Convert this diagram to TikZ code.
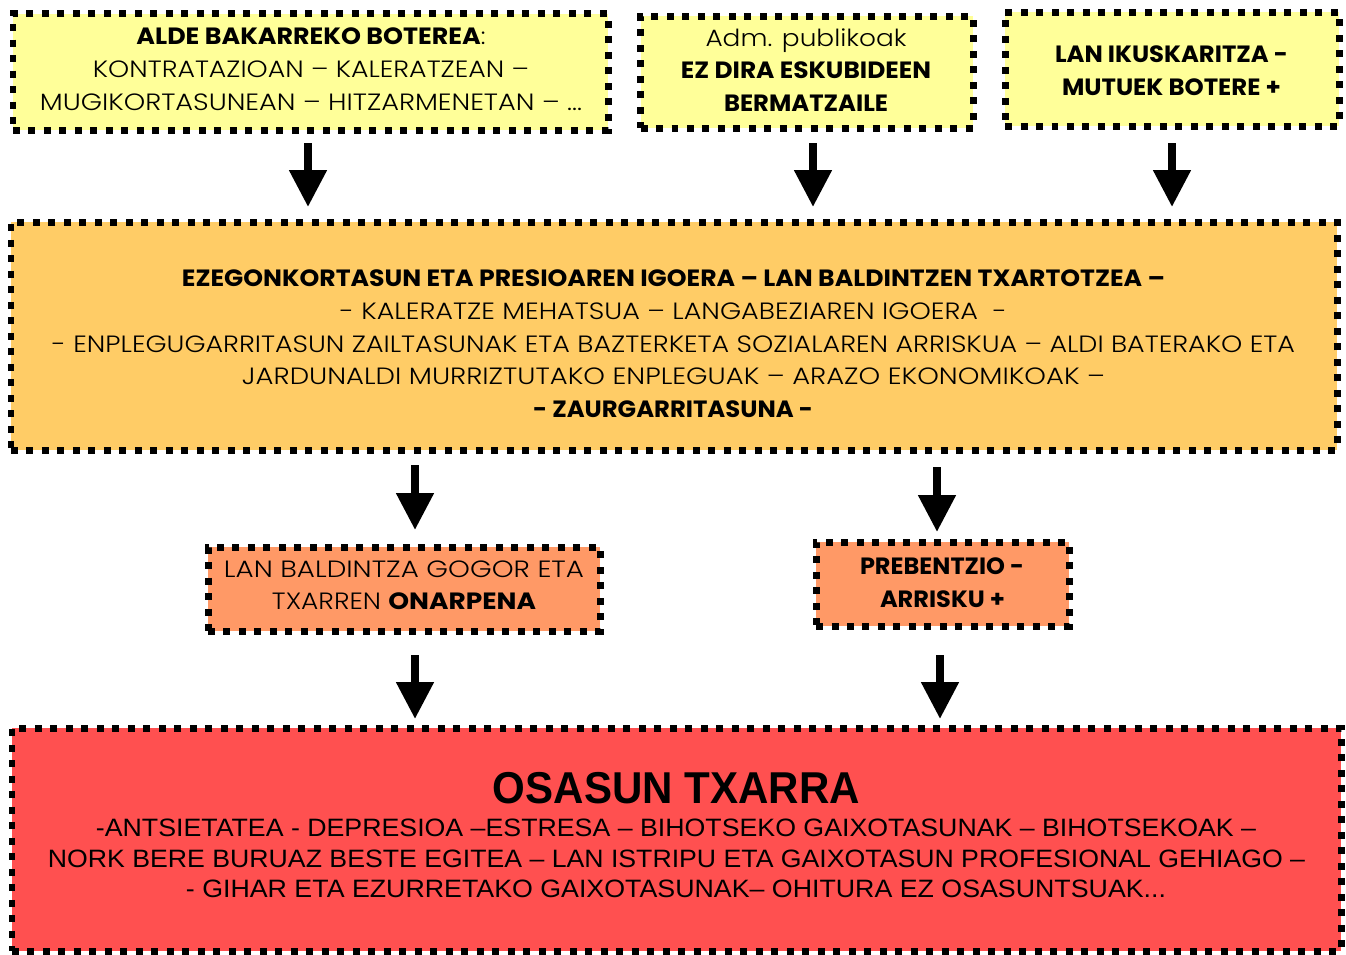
\documentclass[tikz,border=0pt]{standalone}
\usepackage{fontspec}
\usepackage{graphicx}
\setmainfont{Poppins}[UprightFont=* Light, BoldFont=* Bold]
\newfontfamily\arialf{Liberation Sans}
\usetikzlibrary{arrows.meta}
\newlength\pxu
\setlength\pxu{0.02cm}
\newcommand\fw[2]{\resizebox{#1\pxu}{\height}{#2}}
\definecolor{yelfill}{HTML}{FFFF99}
\definecolor{orfill}{HTML}{FFCC66}
\definecolor{salfill}{HTML}{FF9966}
\definecolor{redfill}{HTML}{FF5050}
\tikzset{
  dotbox/.style={draw=black, line width=0.14cm, dash pattern=on 0.14cm off 0.17cm, inner sep=0pt, outer sep=0pt},
  gtext/.style={anchor=base, inner sep=0pt, font=\fontsize{13.4}{16}\selectfont},
  atext/.style={anchor=base, inner sep=0pt, font=\arialf\fontsize{14.3}{17}\selectfont},
  ttext/.style={anchor=base, inner sep=0pt, font=\arialf\bfseries\fontsize{25.4}{30}\selectfont},
  bigarrow/.style={line width=0.16cm, -{Triangle[length=0.74cm, width=0.72cm]}}
}
\begin{document}
\begin{tikzpicture}[x=0.02cm, y=-0.02cm]
\useasboundingbox (0,0) rectangle (1346,954);
% boxes
\node[dotbox, fill=yelfill, minimum width=595\pxu, minimum height=116.5\pxu] (b1) at (310.5,71.75) {};
\node[dotbox, fill=yelfill, minimum width=332.5\pxu, minimum height=112\pxu] (b2) at (806.75,72) {};
\node[dotbox, fill=yelfill, minimum width=334\pxu, minimum height=114\pxu] (b3) at (1172,69) {};
\node[dotbox, fill=orfill, minimum width=1326\pxu, minimum height=228\pxu] (b4) at (674,336) {};
\node[dotbox, fill=salfill, minimum width=392\pxu, minimum height=84\pxu] (b5) at (404,589) {};
\node[dotbox, fill=salfill, minimum width=253\pxu, minimum height=84\pxu] (b6) at (942.5,584) {};
\node[dotbox, fill=redfill, minimum width=1329\pxu, minimum height=223\pxu] (b7) at (676.5,839.5) {};
% box 1 text
\node[gtext] (t1a) at (311,44) {\fw{349}{\textbf{ALDE BAKARREKO BOTEREA}:}};
\node[gtext] (t1b) at (311,77) {\fw{436}{KONTRATAZIOAN – KALERATZEAN –}};
\node[gtext] (t1c) at (311,110) {\fw{542}{MUGIKORTASUNEAN – HITZARMENETAN – ...}};
% box 2 text
\node[gtext] (t2a) at (806,46) {\fw{201}{Adm. publikoak}};
\node[gtext] (t2b) at (806,78) {\fw{250}{\textbf{EZ DIRA ESKUBIDEEN}}};
\node[gtext] (t2c) at (806,111) {\fw{164}{\textbf{BERMATZAILE}}};
% box 3 text
\node[gtext] (t3a) at (1171.5,62) {\fw{233}{\textbf{LAN IKUSKARITZA -}}};
\node[gtext] (t3b) at (1171.5,95) {\fw{219}{\textbf{MUTUEK BOTERE +}}};
% box 4 text
\node[gtext] (t4a) at (673.5,286) {\fw{983}{\textbf{EZEGONKORTASUN ETA PRESIOAREN IGOERA – LAN BALDINTZEN TXARTOTZEA –}}};
\node[gtext] (t4b) at (673.5,319) {\fw{667}{- KALERATZE MEHATSUA – LANGABEZIAREN IGOERA\ \ -}};
\node[gtext] (t4c) at (673.5,352) {\fw{1243}{- ENPLEGUGARRITASUN ZAILTASUNAK ETA BAZTERKETA SOZIALAREN ARRISKUA – ALDI BATERAKO ETA}};
\node[gtext] (t4d) at (673.5,384) {\fw{863}{JARDUNALDI MURRIZTUTAKO ENPLEGUAK – ARAZO EKONOMIKOAK –}};
\node[gtext] (t4e) at (673,417) {\fw{280}{\textbf{- ZAURGARRITASUNA -}}};
% box 5 text
\node[gtext] (t5a) at (404,577) {\fw{360}{LAN BALDINTZA GOGOR ETA}};
\node[gtext] (t5b) at (404,609) {\fw{264}{TXARREN \textbf{ONARPENA}}};
% box 6 text
\node[gtext] (t6a) at (942,574) {\fw{164}{\textbf{PREBENTZIO -}}};
\node[gtext] (t6b) at (942.5,607) {\fw{125}{\textbf{ARRISKU +}}};
% box 7 text
\node[ttext] (t7t) at (676.5,803) {\fw{367}{OSASUN TXARRA}};
\node[atext] (t7a) at (676,836) {\fw{1160}{-ANTSIETATEA - DEPRESIOA –ESTRESA – BIHOTSEKO GAIXOTASUNAK – BIHOTSEKOAK –}};
\node[atext] (t7b) at (676.5,867) {\fw{1257}{NORK BERE BURUAZ BESTE EGITEA – LAN ISTRIPU ETA GAIXOTASUN PROFESIONAL GEHIAGO –}};
\node[atext] (t7c) at (676,897) {\fw{980}{- GIHAR ETA EZURRETAKO GAIXOTASUNAK– OHITURA EZ OSASUNTSUAK...}};
% arrow end points
\coordinate (a1s) at (308,143);  \coordinate (a1e) at (308,207);
\coordinate (a2s) at (813,143);  \coordinate (a2e) at (813,207);
\coordinate (a3s) at (1172,143); \coordinate (a3e) at (1172,207);
\coordinate (a4s) at (415,465);  \coordinate (a4e) at (415,530);
\coordinate (a5s) at (937,467);  \coordinate (a5e) at (937,532);
\coordinate (a6s) at (415,655);  \coordinate (a6e) at (415,719);
\coordinate (a7s) at (940,655);  \coordinate (a7e) at (940,719);
\draw[bigarrow] (a1s) -- (a1e);
\draw[bigarrow] (a2s) -- (a2e);
\draw[bigarrow] (a3s) -- (a3e);
\draw[bigarrow] (a4s) -- (a4e);
\draw[bigarrow] (a5s) -- (a5e);
\draw[bigarrow] (a6s) -- (a6e);
\draw[bigarrow] (a7s) -- (a7e);
\end{tikzpicture}
\end{document}
